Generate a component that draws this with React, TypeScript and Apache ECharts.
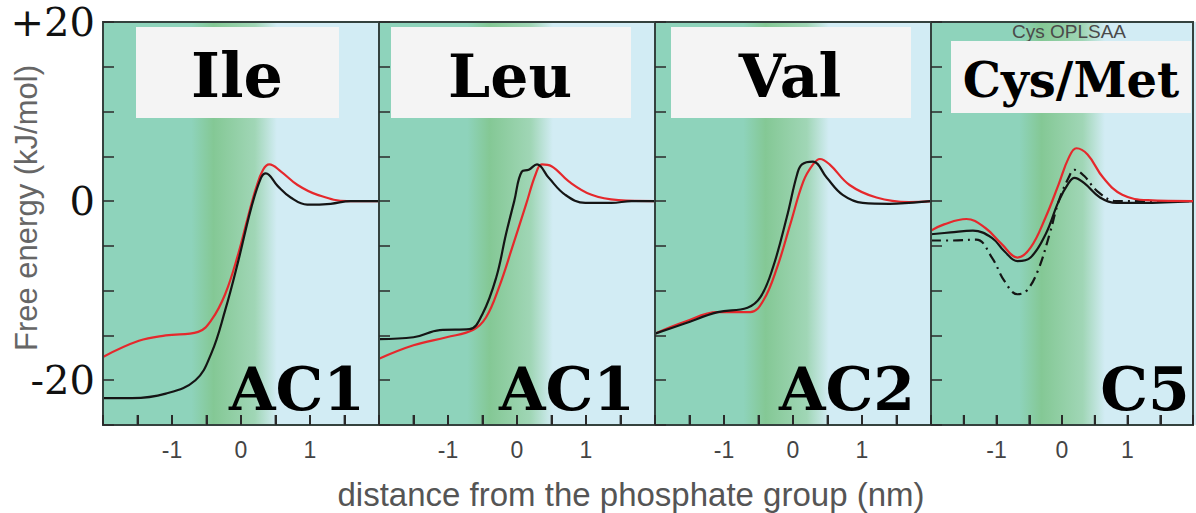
import React, { useEffect, useRef } from 'react';
import * as echarts from 'echarts';

// curves: [distance nm, free energy kJ/mol]
const ileRed = [
  [-2, -17.4], [-1.48, -15.6], [-1.09, -15.0], [-0.62, -14.6], [-0.43, -13.3], [-0.23, -10.4],
  [-0.04, -5.9], [0.1, -1.8], [0.22, 1.5], [0.32, 3.5], [0.41, 4.1], [0.58, 3.3], [0.82, 1.8],
  [1.11, 0.7], [1.54, 0], [2, 0],
];
const ileBlack = [
  [-2, -22.0], [-1.58, -22.0], [-1.09, -21.5], [-0.66, -20.0], [-0.43, -17.0], [-0.23, -12.2],
  [-0.04, -6.7], [0.15, -0.7], [0.29, 2.6], [0.36, 3.1], [0.53, 1.7], [0.72, 0.4], [0.96, -0.4],
  [1.3, -0.3], [1.59, 0], [2, 0],
];
const leuRed = [
  [-2, -17.6], [-1.5, -16.1], [-1.02, -15.2], [-0.64, -14.4], [-0.45, -13.0], [-0.26, -9.6],
  [-0.07, -5.2], [0.13, -0.4], [0.27, 3.0], [0.36, 4.1], [0.5, 3.9], [0.75, 2.2], [1.08, 0.7],
  [1.47, 0.1], [2, 0],
];
const leuBlack = [
  [-2, -15.4], [-1.5, -15.2], [-1.12, -14.4], [-0.69, -14.3], [-0.5, -12.6], [-0.3, -8.5],
  [-0.16, -3.7], [-0.04, 0], [0.07, 3.3], [0.17, 3.5], [0.29, 4.1], [0.46, 2.6], [0.7, 0.7],
  [0.99, -0.2], [1.37, -0.2], [1.66, 0], [2, 0],
];
const valRed = [
  [-2, -14.8], [-1.58, -13.5], [-1.09, -12.4], [-0.62, -12.4], [-0.43, -11.1], [-0.23, -7.4],
  [-0.04, -2.6], [0.15, 2.2], [0.29, 4.1], [0.39, 4.7], [0.53, 4.1], [0.82, 1.8], [1.21, 0.4],
  [1.68, -0.1], [2, 0],
];
const valBlack = [
  [-2, -14.8], [-1.58, -13.7], [-1.09, -12.4], [-0.66, -11.9], [-0.47, -10.7], [-0.29, -7.4],
  [-0.09, -1.8], [0.06, 3.0], [0.13, 4.1], [0.29, 4.4], [0.49, 2.6], [0.72, 0.7], [1.01, -0.2],
  [1.4, -0.3], [1.68, -0.2], [2, 0],
];
const cysRed = [
  [-2, -3.3], [-1.8, -2.6], [-1.46, -2.0], [-1.17, -3.0], [-0.92, -4.8], [-0.68, -6.3],
  [-0.48, -5.2], [-0.25, -1.8], [-0.05, 1.9], [0.1, 4.8], [0.22, 5.9], [0.39, 5.2], [0.63, 2.6],
  [0.92, 0.7], [1.31, 0.1], [2, 0],
];
const cysBlack = [
  [-2, -3.7], [-1.7, -3.5], [-1.36, -3.3], [-1.07, -4.1], [-0.88, -5.6], [-0.68, -6.7],
  [-0.48, -6.3], [-0.25, -3.7], [-0.05, 0], [0.1, 2.0], [0.19, 2.6], [0.34, 2.0], [0.58, 0.4],
  [0.83, -0.2], [1.21, -0.2], [2, 0],
];
const cysDashDot = [
  [-2, -4.4], [-1.7, -4.4], [-1.31, -4.3], [-1.07, -6.3], [-0.88, -8.9], [-0.68, -10.4],
  [-0.54, -10.0], [-0.37, -7.8], [-0.19, -3.7], [-0.05, 0], [0.1, 2.6], [0.19, 3.5], [0.34, 2.8],
  [0.54, 1.1], [0.83, 0], [2, 0],
];

const panelTitles = ['Ile', 'Leu', 'Val', 'Cys/Met'];
const panelTags = ['AC1', 'AC1', 'AC2', 'C5'];
const xTickLabels = ['-1', '0', '1'];
// small tick marks along the bottom edge, every 0.5 nm
const xTickValues = [-1.5, -1, -0.5, 0, 0.5, 1, 1.5];
const yTickLabels: Record<string, string> = { '20': '+20', '0': '0', '-20': '-20' };

const panelLeft = [103, 379, 655, 931];
const panelTop = 22;
const panelW = 276;
const panelH = 403;
const Y_MIN = -25;

const RED = '#e5282c';
const BLACK = '#151515';
const FRAME = '#34423e';
const SERIF = '"DejaVu Serif", Georgia, serif';
const SANS = '"Liberation Sans", Arial, sans-serif';

export default function App() {
  const chartRef = useRef<HTMLDivElement>(null);

  useEffect(() => {
    if (!chartRef.current) return;
    const chart = echarts.init(chartRef.current, undefined, { renderer: 'svg' });

    const grids = panelLeft.map((left) => ({
      left,
      top: panelTop,
      width: panelW,
      height: panelH,
      show: true,
      borderColor: FRAME,
      borderWidth: 2,
      backgroundColor: 'transparent',
    }));

    const xAxes = panelLeft.map((_, i) => ({
      type: 'value',
      gridIndex: i,
      position: 'bottom',
      min: -2,
      max: 2,
      interval: 0.5,
      z: 20,
      axisLine: { show: true, onZero: false, lineStyle: { color: FRAME, width: 2 } },
      axisTick: { show: true, inside: true, length: 10, lineStyle: { color: '#2a2a2a', width: 2 } },
      splitLine: { show: false },
      axisLabel: {
        margin: 13,
        color: '#444',
        fontSize: 23,
        fontFamily: SANS,
        formatter: (v: number) => (xTickLabels.includes(String(v)) ? String(v) : ''),
      },
    }));

    const yAxes = panelLeft.map((_, i) => ({
      type: 'value',
      gridIndex: i,
      position: 'left',
      min: Y_MIN,
      max: 20,
      interval: 5,
      z: 20,
      axisLine: { show: true, onZero: false, lineStyle: { color: FRAME, width: 2 } },
      axisTick: { show: true, inside: true, length: 11, lineStyle: { color: '#2a2a2a', width: 1.5 } },
      splitLine: { show: false },
      axisLabel: {
        show: i === 0,
        margin: 8,
        color: '#111',
        fontSize: 40,
        fontFamily: SERIF,
        formatter: (v: number) => yTickLabels[String(v)] ?? '',
      },
    }));

    const line = (idx: number, data: number[][], color: string, type: any = 'solid') => ({
      type: 'line',
      xAxisIndex: idx,
      yAxisIndex: idx,
      data,
      smooth: 0.4,
      symbol: 'none',
      lineStyle: { color, width: 2.2, type },
      z: 5,
    });

    // bottom tick marks placed through the x scale
    const bottomTicks = panelLeft.map((_, i) => ({
      type: 'scatter',
      xAxisIndex: i,
      yAxisIndex: i,
      data: xTickValues.map((v) => [v, Y_MIN]),
      symbol: 'rect',
      symbolSize: [2, 10],
      symbolOffset: [0, -5],
      itemStyle: { color: '#2a2a2a' },
      silent: true,
      clip: false,
      z: 6,
    }));

    const series = [
      line(0, ileRed, RED),
      line(0, ileBlack, BLACK),
      line(1, leuRed, RED),
      line(1, leuBlack, BLACK),
      line(2, valRed, RED),
      line(2, valBlack, BLACK),
      line(3, cysDashDot, BLACK, [10, 5, 2, 5]),
      line(3, cysBlack, BLACK),
      line(3, cysRed, RED),
      ...bottomTicks,
    ];

    const bgFill = () =>
      new echarts.graphic.LinearGradient(0, 0, 1, 0, [
        { offset: 0, color: '#8ed3bb' },
        { offset: 0.32, color: '#8ed3bb' },
        { offset: 0.4, color: '#84c895' },
        { offset: 0.55, color: '#a0d6b6' },
        { offset: 0.63, color: '#d2ecf4' },
        { offset: 1, color: '#d2ecf4' },
      ]);

    const backgrounds = panelLeft.map((left) => ({
      type: 'rect',
      z: -10,
      shape: { x: left, y: panelTop, width: panelW, height: panelH },
      style: { fill: bgFill() },
    }));

    const boxes = [
      { x: 136, y: 27, w: 203, h: 91 },
      { x: 391, y: 27, w: 240, h: 91 },
      { x: 671, y: 27, w: 240, h: 91 },
      { x: 951, y: 41, w: 240, h: 72 },
    ];
    const titleSizes = [62, 60, 60, 48];
    const titleCenters = [237, 510, 790, 1071];

    const titleBoxes = boxes.map((b) => ({
      type: 'rect',
      z: 50,
      shape: { x: b.x, y: b.y, width: b.w, height: b.h },
      style: { fill: '#f4f4f4' },
    }));

    const titles = panelTitles.map((t, i) => ({
      type: 'text',
      z: 60,
      x: titleCenters[i],
      y: boxes[i].y + boxes[i].h / 2 + 3,
      style: {
        text: t,
        fill: '#000',
        font: `bold ${titleSizes[i]}px ${SERIF}`,
        textAlign: 'center',
        textVerticalAlign: 'middle',
      },
    }));

    const tagCenters = [297, 567, 847, 1145];
    const tags = panelTags.map((t, i) => ({
      type: 'text',
      z: 60,
      x: tagCenters[i],
      y: 389,
      style: {
        text: t,
        fill: '#000',
        font: `bold 60px ${SERIF}`,
        textAlign: 'center',
        textVerticalAlign: 'middle',
      },
    }));

    const option: any = {
      animation: false,
      backgroundColor: '#ffffff',
      grid: grids,
      xAxis: xAxes,
      yAxis: yAxes,
      series,
      graphic: [
        ...backgrounds,
        {
          type: 'text',
          z: 40,
          x: 1012,
          y: 31,
          style: { text: 'Cys OPLSAA', fill: '#4a4a4a', font: `19px ${SANS}`, textVerticalAlign: 'middle' },
        },
        ...titleBoxes,
        ...titles,
        ...tags,
        {
          type: 'text',
          x: 26,
          y: 208,
          rotation: Math.PI / 2,
          style: {
            text: 'Free energy (kJ/mol)',
            fill: '#666',
            font: `31px ${SANS}`,
            textAlign: 'center',
            textVerticalAlign: 'middle',
          },
        },
        {
          type: 'text',
          x: 631,
          y: 494,
          style: {
            text: 'distance from the phosphate group (nm)',
            fill: '#555',
            font: `33px ${SANS}`,
            textAlign: 'center',
            textVerticalAlign: 'middle',
          },
        },
      ],
    };

    chart.setOption(option);
    return () => chart.dispose();
  }, []);

  return (
    <div
      ref={chartRef}
      style={{ position: 'absolute', left: 0, top: 0, width: 1196, height: 513 }}
    />
  );
}
